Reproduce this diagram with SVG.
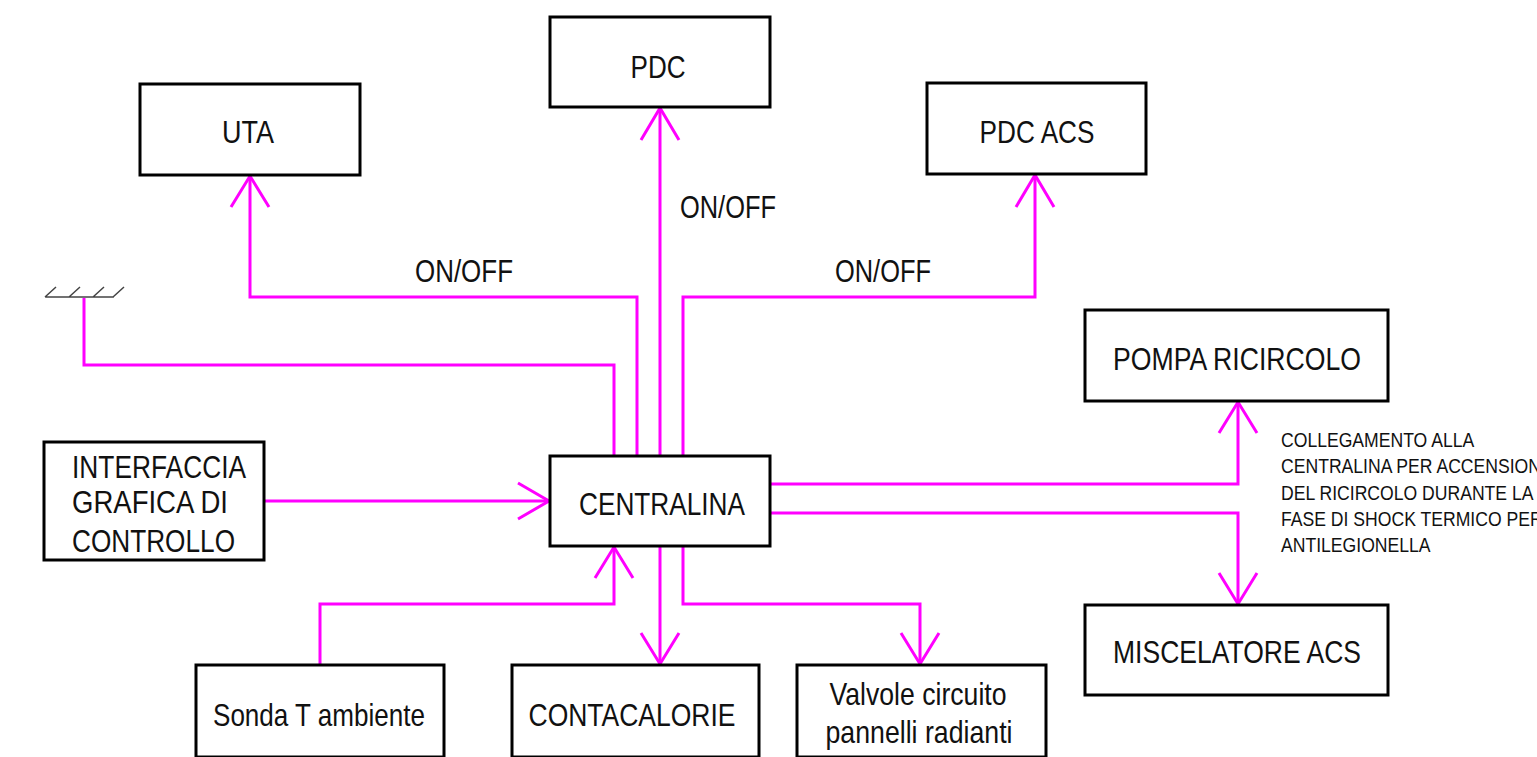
<svg xmlns="http://www.w3.org/2000/svg" width="1537" height="757" viewBox="0 0 1537 757">
<style>
.box{fill:#fff;stroke:#000;stroke-width:3}
.t{font-family:"Liberation Sans",Arial,sans-serif;font-size:32px;fill:#111;text-anchor:middle}
.l{text-anchor:start}
.s{font-family:"Liberation Sans",Arial,sans-serif;font-size:20px;fill:#111}
.c{fill:none;stroke:#ff00ff;stroke-width:3}
.g{fill:none;stroke:#444;stroke-width:1.5}
</style>
<rect width="1537" height="757" fill="#fff"/>
<g id="connectors">
<path class="c" d="M637,456V297H250V176"/><path class="c" d="M231,207L250,176L269,207"/>
<path class="c" d="M660,456V108"/><path class="c" d="M641,140L660,108L679,140"/>
<path class="c" d="M683,456V297H1035V175"/><path class="c" d="M1016,207L1035,175L1054,207"/>
<path class="c" d="M614,456V365H84V298"/>
<path class="c" d="M264,501H549"/><path class="c" d="M518,483L549,501L518,519"/>
<path class="c" d="M770,484H1238V402"/><path class="c" d="M1219,433L1238,402L1257,433"/>
<path class="c" d="M770,513H1238V604"/><path class="c" d="M1219,573L1238,604L1257,573"/>
<path class="c" d="M320,665V604H614V547"/><path class="c" d="M595,578L614,547L633,578"/>
<path class="c" d="M660,546V664"/><path class="c" d="M641,633L660,664L679,633"/>
<path class="c" d="M683,546V604H920V664"/><path class="c" d="M901,633L920,664L939,633"/>
<text class="t" x="464" y="282" textLength="98" lengthAdjust="spacingAndGlyphs">ON/OFF</text>
<text class="t" x="728" y="218" textLength="96" lengthAdjust="spacingAndGlyphs">ON/OFF</text>
<text class="t" x="883" y="282" textLength="96" lengthAdjust="spacingAndGlyphs">ON/OFF</text>
</g>
<g id="ground">
<path class="g" d="M45,297H114M45,297L56,287M69,297L80,287M93,297L104,287M113,297L124,287"/>
</g>
<g id="uta"><rect class="box" x="140" y="84" width="220" height="91"/><text class="t" x="248" y="143" textLength="52" lengthAdjust="spacingAndGlyphs">UTA</text></g>
<g id="pdc"><rect class="box" x="550" y="17" width="220" height="90"/><text class="t" x="658" y="78" textLength="55" lengthAdjust="spacingAndGlyphs">PDC</text></g>
<g id="pdcacs"><rect class="box" x="927" y="83" width="219" height="91"/><text class="t" x="1037" y="143" textLength="115" lengthAdjust="spacingAndGlyphs">PDC ACS</text></g>
<g id="pompa"><rect class="box" x="1085" y="310" width="303" height="91"/><text class="t" x="1237" y="370" textLength="248" lengthAdjust="spacingAndGlyphs">POMPA RICIRCOLO</text></g>
<g id="interfaccia"><rect class="box" x="44" y="442" width="220" height="118"/>
<text class="t l" x="72" y="478" textLength="174" lengthAdjust="spacingAndGlyphs">INTERFACCIA</text>
<text class="t l" x="72" y="513" textLength="156" lengthAdjust="spacingAndGlyphs">GRAFICA DI</text>
<text class="t l" x="72" y="552" textLength="163" lengthAdjust="spacingAndGlyphs">CONTROLLO</text></g>
<g id="centralina"><rect class="box" x="550" y="456" width="220" height="90"/><text class="t" x="662" y="515" textLength="166" lengthAdjust="spacingAndGlyphs">CENTRALINA</text></g>
<g id="miscelatore"><rect class="box" x="1085" y="605" width="303" height="90"/><text class="t" x="1237" y="663" textLength="248" lengthAdjust="spacingAndGlyphs">MISCELATORE ACS</text></g>
<g id="sonda"><rect class="box" x="196" y="665" width="248" height="92"/><text class="t" x="319" y="726" textLength="212" lengthAdjust="spacingAndGlyphs">Sonda T ambiente</text></g>
<g id="contacalorie"><rect class="box" x="512" y="665" width="247" height="92"/><text class="t" x="632" y="726" textLength="207" lengthAdjust="spacingAndGlyphs">CONTACALORIE</text></g>
<g id="valvole"><rect class="box" x="797" y="665" width="249" height="92"/><text class="t" x="918" y="705" textLength="177" lengthAdjust="spacingAndGlyphs">Valvole circuito</text><text class="t" x="919" y="743" textLength="187" lengthAdjust="spacingAndGlyphs">pannelli radianti</text></g>
<g id="nota" transform="translate(1281,0) scale(0.88,1)">
<text class="s" x="0" y="447">COLLEGAMENTO ALLA</text>
<text class="s" x="0" y="473">CENTRALINA PER ACCENSIONE</text>
<text class="s" x="0" y="500">DEL RICIRCOLO DURANTE LA</text>
<text class="s" x="0" y="526">FASE DI SHOCK TERMICO PER</text>
<text class="s" x="0" y="552">ANTILEGIONELLA</text>
</g>
</svg>
